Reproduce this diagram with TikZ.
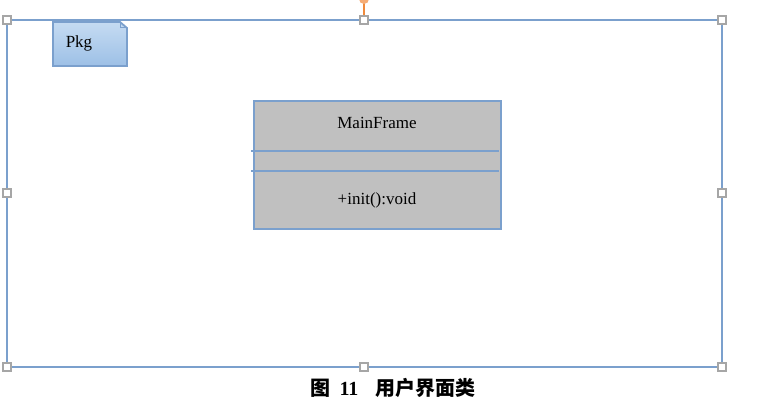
\documentclass[tikz,border=0pt]{standalone}
\usepackage{fontspec}
\setmainfont{Liberation Serif}
\newfontfamily\cjk{Noto Sans CJK SC}
\definecolor{frameblue}{HTML}{7BA0CD}
\definecolor{handlegray}{HTML}{A6A6A6}
\definecolor{pkgtop}{HTML}{C5DBF2}
\definecolor{pkgbot}{HTML}{9DC0E6}
\definecolor{classgray}{HTML}{C0C0C0}
\definecolor{pinorange}{HTML}{F08A3C}
\begin{document}
\begin{tikzpicture}[x=1pt,y=-1pt,
  handle/.style={draw=handlegray,fill=white,line width=1.3pt,minimum size=8pt,inner sep=0pt},
  frameline/.style={draw=frameblue,line width=2.6pt},
  lbl/.style={font=\fontsize{17}{19}\selectfont,inner sep=0pt}]
\useasboundingbox (0,0) rectangle (769,417);
% outer frame
\draw[frameline] (7,20) rectangle (722,367);
% pin
\coordinate (pintop) at (364,-1);
\coordinate (pinbot) at (364,16);
\draw[pinorange,line width=1.5pt] (pintop) -- (pinbot);
\fill[pinorange!70] (pintop) circle (5);
% handles
\foreach \n/\x/\y in {h1/7/20,h2/364/20,h3/722/20,h4/7/193,h5/722/193,h6/7/367,h7/364/367,h8/722/367}
  \node[handle] (\n) at (\x,\y) {};
% Pkg tab
\shade[top color=pkgtop,bottom color=pkgbot,draw=frameblue,line width=1.8pt]
  (53,22) -- (120,22) -- (127,28) -- (127,66) -- (53,66) -- cycle;
\draw[frameblue,line width=1pt] (120,22) -- (120,28) -- (127,28);
\node[lbl] (pkg) at (79,43) {Pkg};
% class box
\draw[fill=classgray,draw=frameblue,line width=2.6pt] (254,101) rectangle (501,229);
\coordinate (l1a) at (251,151); \coordinate (l1b) at (499,151);
\coordinate (l2a) at (251,171); \coordinate (l2b) at (499,171);
\draw[frameline] (l1a) -- (l1b);
\draw[frameline] (l2a) -- (l2b);
\node[lbl] (cname) at (377,123) {MainFrame};
\node[lbl] (cop) at (377,200) {+init():void};
% caption
\node[inner sep=0pt,font=\fontsize{20}{22}\selectfont\bfseries] (cap) at (393,388)
  {{\cjk\bfseries 图}\hspace{0.45em}11\hspace{0.85em}{\cjk\bfseries 用户界面类}};
\end{tikzpicture}
\end{document}
